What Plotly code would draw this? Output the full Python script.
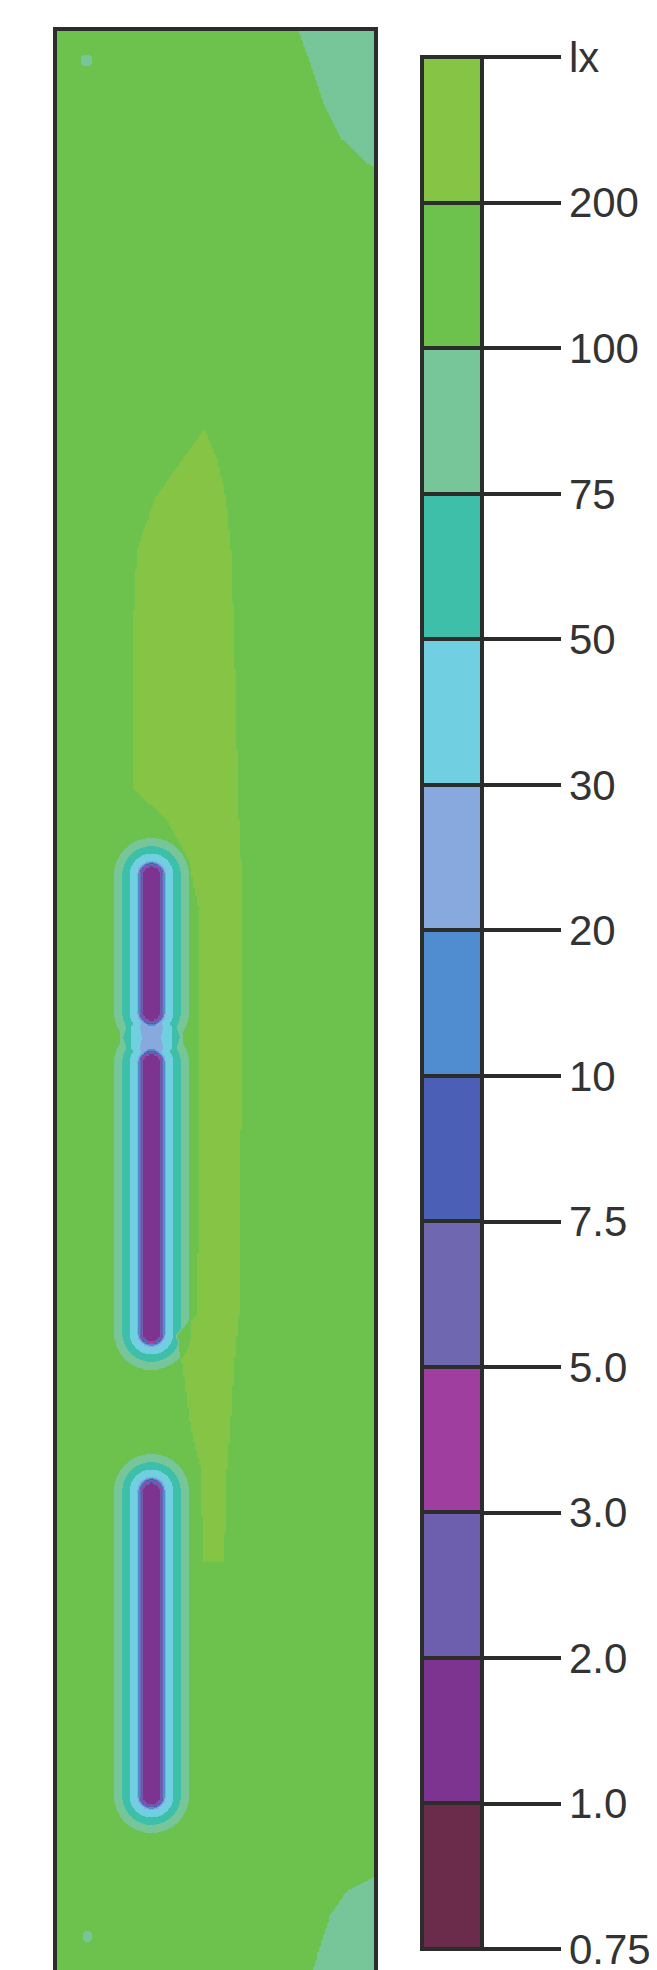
import numpy as np
import plotly.graph_objects as go

# ---- legend classes (lux), bottom -> top ----
LEVELS_LUX = [0.75, 1.0, 2.0, 3.0, 5.0, 7.5, 10, 20, 30, 50, 75, 100, 200, 400]
TICK_TEXT = ["0.75", "1.0", "2.0", "3.0", "5.0", "7.5", "10", "20", "30", "50",
             "75", "100", "200", "lx"]
BAND_COLORS = ["#6b2b4a", "#7d3490", "#6d5fae", "#9f3e9f", "#6f68b1", "#4c5fb6",
               "#4f8dd0", "#87a9dd", "#70d0e2", "#3dbfaa", "#76c699", "#6dc14d",
               "#86c445"]

# ---- room plan (units: plan px, origin top-left) ----
ROOM_W = 322
ROOM_H = 1945
BASE_LUX = 150          # general level (100-200 lx)

# bright zone (> 200 lx): left / right boundary per height
BRIGHT_LUX = 260
BRIGHT_V = [400, 430, 470, 520, 600, 760, 790, 830, 880, 1100, 1285, 1305, 1340, 1400, 1440, 1532]
BRIGHT_UL = [150, 128, 100, 82, 78, 78, 112, 133, 144, 145, 142, 122, 128, 136, 146, 148]
BRIGHT_UR = [150, 163, 172, 177, 180, 184, 185, 187, 189, 187, 185, 183, 180, 176, 173, 170]

# dimmer corners (75-100 lx)
CORNER_LUX = 88
TR_V = [0, 78, 111, 135, 140]
TR_U = [243, 270, 287, 312, 322]
BR_V = [1845, 1860, 1885, 1945]
BR_U = [322, 292, 275, 256]
SPOT_U = [32, 33]
SPOT_V = [32, 1906]
SPOT_R = [6, 6]

# shaded strips (obstructions): centre line and extent
BAR_U = [97, 97, 97]
BAR_V0 = [846, 1034, 1462]
BAR_V1 = [982, 1303, 1765]
# illuminance vs distance from strip centre line
SHADE_D = [0, 5, 9, 10, 11, 12.5, 13.5, 14.5, 21, 25, 29, 37, 44]
SHADE_LUX = [1.4, 1.6, 1.9, 3.0, 7.0, 12, 22, 32, 48, 56, 74, 98, 150]

# ---- build field from the read values ----
u = np.arange(1, ROOM_W, 2.0)
v = np.arange(1, ROOM_H, 2.0)
U, V = np.meshgrid(u, v)
lux = np.full(U.shape, float(BASE_LUX))

inb = (V >= BRIGHT_V[0]) & (V <= BRIGHT_V[-1])
ul = np.interp(V, BRIGHT_V, BRIGHT_UL)
ur = np.interp(V, BRIGHT_V, BRIGHT_UR)
lux[inb & (U >= ul) & (U <= ur)] = BRIGHT_LUX

lux[(V <= TR_V[-1]) & (U >= np.interp(V, TR_V, TR_U))] = CORNER_LUX
lux[(V >= BR_V[0]) & (U >= np.interp(V, BR_V, BR_U))] = CORNER_LUX
for su, sv, sr in zip(SPOT_U, SPOT_V, SPOT_R):
    lux[(U - su) ** 2 + (V - sv) ** 2 <= sr ** 2] = CORNER_LUX

logshade = np.log(np.array(SHADE_LUX) / SHADE_LUX[-1])
for bu, b0, b1 in zip(BAR_U, BAR_V0, BAR_V1):
    dv = np.clip(V, b0, b1)
    d = np.hypot(U - bu, V - dv)
    lux *= np.exp(np.interp(d, SHADE_D, logshade))

band = np.interp(np.log(lux), np.log(LEVELS_LUX), np.arange(len(LEVELS_LUX)))
band = np.round(band, 2)

n = len(BAND_COLORS)
cscale = []
for i, c in enumerate(BAND_COLORS):
    cscale.append([i / n, c])
    cscale.append([(i + 1) / n, c])

DARK = "#2b2d2a"
fig = go.Figure()
# trace carrying the legend (class bar with separating lines)
fig.add_trace(go.Contour(
    x=u[::4], y=v[::4], z=band[::4, ::4],
    zmin=0, zmax=n, colorscale=cscale, autocontour=False,
    contours=dict(start=1, end=n - 1, size=1, coloring="heatmap", showlines=True),
    line=dict(color=DARK, width=4),
    hoverinfo="skip",
    colorbar=dict(
        x=1.1514, xanchor="left", xpad=0,
        y=0.9865, yanchor="top", ypad=0,
        len=1892, lenmode="pixels", thickness=60,
        outlinecolor=DARK, outlinewidth=4,
        tickmode="array", tickvals=list(range(len(TICK_TEXT))), ticktext=TICK_TEXT,
        ticks="outside", ticklen=77, tickwidth=4, tickcolor=DARK,
        ticklabeloverflow="allow",
        tickfont=dict(family="Liberation Sans, Arial, sans-serif", size=42, color="#333333"),
    ),
))
# the illuminance map itself
fig.add_trace(go.Contour(
    x=u, y=v, z=band,
    zmin=0, zmax=n, colorscale=cscale, autocontour=False,
    contours=dict(start=1, end=n - 1, size=1, coloring="heatmap", showlines=False),
    line=dict(width=0), showscale=False, hoverinfo="skip",
))

fig.update_xaxes(range=[3, 320], showgrid=False, zeroline=False, showticklabels=False,
                 ticks="", showline=True, mirror=True, linecolor=DARK, linewidth=4)
fig.update_yaxes(range=[1945, 3], showgrid=False, zeroline=False, showticklabels=False,
                 ticks="", showline=True, mirror=True, linecolor=DARK, linewidth=4)
fig.update_layout(
    width=657, height=1970,
    margin=dict(l=49, r=291, t=23, b=3),
    paper_bgcolor="white", plot_bgcolor="white",
    showlegend=False,
)
fig.write_html("out.html")
